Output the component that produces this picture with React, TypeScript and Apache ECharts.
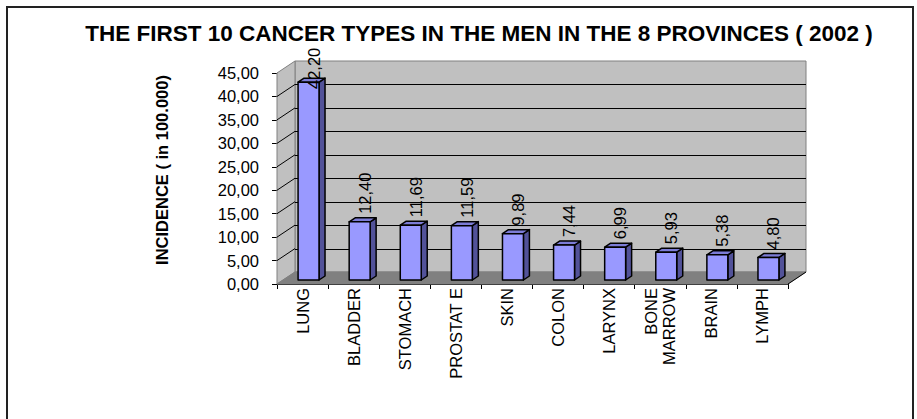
import React, { useEffect, useRef } from 'react';
import * as echarts from 'echarts';

const categories = ['LUNG', 'BLADDER', 'STOMACH', 'PROSTAT E', 'SKIN', 'COLON', 'LARYNX', 'BONE\nMARROW', 'BRAIN', 'LYMPH'];
const incidence = [42.2, 12.4, 11.69, 11.59, 9.89, 7.44, 6.99, 5.93, 5.38, 4.8];
const yTicks = [0, 5, 10, 15, 20, 25, 30, 35, 40, 45];
const titleText = 'THE FIRST 10 CANCER TYPES IN THE MEN IN THE 8 PROVINCES ( 2002 )';
const yAxisTitle = 'INCIDENCE ( in 100.000)';

const FONT = '"Liberation Sans", Arial, Helvetica, sans-serif';
const fmt = (v: number) => v.toFixed(2).replace('.', ',');

// 3D look (pixels)
const WALL_DX = 18;
const WALL_DY = -12;
const BAR_DX = 6;
const BAR_DY = -4;
const BAR_DEPTH_X = 6;
const BAR_DEPTH_Y = -4;
// keep rotated value labels clear of the title
const LABEL_MIN_START_Y = 89;

const crisp = (v: number) => Math.round(v) + 0.5;

export default function App() {
  const ref = useRef<HTMLDivElement>(null);
  useEffect(() => {
    if (!ref.current) return;
    const chart = echarts.init(ref.current, undefined, { renderer: 'svg' });

    const wallsRender = (params: any, api: any) => {
      const cs = params.coordSys;
      const x0 = cs.x;
      const x1 = cs.x + cs.width;
      const yt = cs.y;
      const yb = cs.y + cs.height;
      const children: any[] = [];
      children.push({
        type: 'rect',
        shape: { x: x0 + WALL_DX, y: yt + WALL_DY, width: cs.width, height: cs.height },
        style: { fill: '#C0C0C0', stroke: '#808080', lineWidth: 1 },
      });
      children.push({
        type: 'polygon',
        shape: { points: [[x0, yb], [x0, yt], [x0 + WALL_DX, yt + WALL_DY], [x0 + WALL_DX, yb + WALL_DY]] },
        style: { fill: '#C0C0C0', stroke: '#808080', lineWidth: 1 },
      });
      children.push({
        type: 'polygon',
        shape: { points: [[x0, yb], [x1, yb], [x1 + WALL_DX, yb + WALL_DY], [x0 + WALL_DX, yb + WALL_DY]] },
        style: { fill: '#808080', stroke: '#808080', lineWidth: 1 },
      });
      children.push({
        type: 'line',
        shape: { x1: x1, y1: yb, x2: x1 + WALL_DX, y2: yb + WALL_DY },
        style: { stroke: '#000', lineWidth: 1 },
      });
      yTicks.forEach((t) => {
        if (t <= 0 || t >= 45) return;
        const y = api.coord([0, t])[1];
        const yy = crisp(y + WALL_DY);
        children.push({
          type: 'line',
          shape: { x1: x0 + WALL_DX, y1: yy, x2: x1 + WALL_DX, y2: yy },
          style: { stroke: '#000', lineWidth: 1 },
        });
        children.push({
          type: 'line',
          shape: { x1: x0, y1: y, x2: x0 + WALL_DX, y2: y + WALL_DY },
          style: { stroke: '#000', lineWidth: 1 },
        });
      });
      return { type: 'group', children };
    };

    const barRender = (params: any, api: any) => {
      const i = api.value(0);
      const v = api.value(1);
      const top = api.coord([i, v]);
      const base = api.coord([i, 0]);
      const bw = api.size([1, 0])[0] * 0.41;
      const cx = top[0] + BAR_DX;
      const yT = top[1] + BAR_DY;
      const yB = base[1] + BAR_DY;
      const L = cx - bw / 2;
      const R = cx + bw / 2;
      const stroke = { stroke: '#000', lineWidth: 1.5, lineJoin: 'round' };
      return {
        type: 'group',
        children: [
          {
            type: 'polygon',
            shape: { points: [[R, yT], [R + BAR_DEPTH_X, yT + BAR_DEPTH_Y], [R + BAR_DEPTH_X, yB + BAR_DEPTH_Y], [R, yB]] },
            style: { fill: '#525299', ...stroke },
          },
          {
            type: 'polygon',
            shape: { points: [[L, yT], [R, yT], [R + BAR_DEPTH_X, yT + BAR_DEPTH_Y], [L + BAR_DEPTH_X, yT + BAR_DEPTH_Y]] },
            style: { fill: '#7C7CD6', ...stroke },
          },
          {
            type: 'rect',
            shape: { x: L, y: yT, width: bw, height: yB - yT },
            style: { fill: '#9999FF', ...stroke },
          },
          {
            type: 'text',
            x: cx + 5,
            y: Math.max(yT - 8, LABEL_MIN_START_Y),
            rotation: Math.PI / 2,
            z2: 10,
            style: {
              text: fmt(v),
              align: 'left',
              verticalAlign: 'middle',
              fontSize: 16.5,
              fontFamily: FONT,
              fill: '#000',
            },
          },
        ],
      };
    };

    chart.setOption({
      animation: false,
      backgroundColor: '#fff',
      grid: { left: 277, top: 73, width: 511, height: 211, containLabel: false },
      graphic: [
        {
          type: 'rect',
          shape: { x: 7, y: 7, width: 906, height: 430 },
          style: { fill: 'none', stroke: '#222', lineWidth: 2 },
          silent: true,
          z: -10,
        },
        {
          type: 'text',
          x: 479,
          y: 33,
          style: {
            text: titleText,
            align: 'center',
            verticalAlign: 'middle',
            fontSize: 22.5,
            fontWeight: 'bold',
            fontFamily: FONT,
            fill: '#000',
          },
        },
        {
          type: 'text',
          x: 162,
          y: 170,
          rotation: Math.PI / 2,
          style: {
            text: yAxisTitle,
            align: 'center',
            verticalAlign: 'middle',
            fontSize: 16.5,
            fontWeight: 'bold',
            fontFamily: FONT,
            fill: '#000',
          },
        },
      ],
      xAxis: {
        type: 'category',
        data: categories,
        axisLine: { show: true, lineStyle: { color: '#000', width: 1 } },
        axisTick: { show: true, length: 5, lineStyle: { color: '#000' } },
        axisLabel: {
          rotate: 90,
          interval: 0,
          margin: 4,
          fontSize: 16.5,
          fontFamily: FONT,
          color: '#000',
          lineHeight: 18,
        },
        splitLine: { show: false },
      },
      yAxis: {
        type: 'value',
        min: 0,
        max: 45,
        interval: 5,
        axisLine: { show: true, lineStyle: { color: '#000', width: 1 } },
        axisTick: { show: true, length: 5, lineStyle: { color: '#000' } },
        axisLabel: {
          margin: 18,
          fontSize: 16.5,
          fontFamily: FONT,
          color: '#000',
          formatter: (v: number) => fmt(v),
        },
        splitLine: { show: false },
      },
      series: [
        {
          type: 'custom',
          name: 'walls',
          renderItem: wallsRender,
          data: [[0, 0]],
          z: 1,
          silent: true,
          clip: false,
        },
        {
          type: 'custom',
          name: 'Incidence',
          renderItem: barRender,
          data: incidence.map((v, i) => [i, v]),
          encode: { x: 0, y: 1 },
          z: 3,
          clip: false,
        },
      ],
    });
    return () => chart.dispose();
  }, []);
  return (
    <div
      ref={ref}
      style={{ position: 'fixed', left: 0, top: 0, width: 917, height: 419 }}
    />
  );
}
